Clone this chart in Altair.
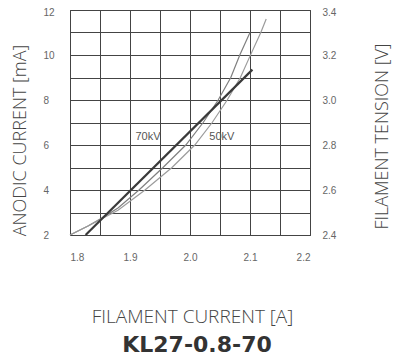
import altair as alt
import pandas as pd

# Anodic current curves (filament current [A] -> anodic current [mA])
i70 = [1.800, 1.830, 1.853, 1.880, 1.915, 1.955, 1.993, 2.022, 2.047, 2.068, 2.083, 2.100]
a70 = [2.0, 2.4, 2.75, 3.2, 4.0, 5.0, 6.0, 7.0, 8.0, 9.0, 10.0, 11.0]
i50 = [1.800, 1.830, 1.853, 1.880, 1.925, 1.970, 2.008, 2.037, 2.062, 2.084, 2.100, 2.118, 2.127]
a50 = [2.0, 2.4, 2.72, 3.1, 4.0, 5.0, 6.0, 7.0, 8.0, 9.0, 9.95, 11.0, 11.6]
# Filament tension line (filament current [A] -> tension [V])
it = [1.826, 2.104]
vt = [2.40, 3.135]
# Curve labels
lab_text = ["70kV", "50kV"]
lab_x = [1.930, 2.053]
lab_y = [6.36, 6.36]
# Ticks
x_ticks = [1.8, 1.85, 1.9, 1.95, 2.0, 2.05, 2.1, 2.15, 2.2]
y_ticks = [2, 3, 4, 5, 6, 7, 8, 9, 10, 11, 12]
r_ticks = [2.4, 2.6, 2.8, 3.0, 3.2, 3.4]

curves = pd.DataFrame({
    "i": i70 + i50,
    "a": a70 + a50,
    "s": ["70kV"] * len(i70) + ["50kV"] * len(i50),
})
tension = pd.DataFrame({"i": it, "v": vt})
labels = pd.DataFrame({"t": lab_text, "x": lab_x, "y": lab_y})

GRID = "#444"
LBL = "#666"
TFONT = "Open Sans"
VSIZE = 18

x_axis = alt.Axis(
    values=x_ticks,
    labelExpr="round(datum.value*100) % 10 == 0 ? format(datum.value, '.1f') : ''",
    grid=True, gridColor=GRID, gridWidth=1, ticks=False, tickSize=0, domain=False,
    labelPadding=17, labelFont="Liberation Sans", labelFontSize=10, labelColor=LBL,
    title="FILAMENT CURRENT [A]", titleFont=TFONT, titleFontSize=19, titleFontWeight=300,
    titleColor="#444", titleX=122, titleY=81, titleAlign="center", titleBaseline="middle",
)
x_scale = alt.Scale(domain=[1.8, 2.2], nice=False, zero=False)

y_axis = alt.Axis(
    values=y_ticks,
    labelExpr="datum.value % 2 == 0 ? datum.label : ''",
    labelOffset={"condition": {"test": "datum.value == 12", "value": 2.5}, "value": 0},
    grid=True, gridColor=GRID, gridWidth=1, ticks=False, tickSize=0, domain=False,
    labelAlign="left", labelPadding=27, labelFont="Liberation Sans", labelFontSize=10,
    labelColor=LBL,
    title="ANODIC CURRENT [mA]", titleFont=TFONT, titleFontSize=VSIZE, titleFontWeight=300,
    titleColor="#444", titleX=-49.5, titleY=130, titleAngle=270, titleAlign="center",
    titleBaseline="middle",
)
y_scale = alt.Scale(domain=[2, 12], nice=False, zero=False)

r_axis = alt.Axis(
    orient="right", values=r_ticks, format=".1f",
    labelOffset={"condition": {"test": "datum.value > 3.35", "value": 2.5}, "value": 0},
    grid=False, ticks=False, tickSize=0, domain=False,
    labelAlign="left", labelPadding=12, labelFont="Liberation Sans", labelFontSize=10,
    labelColor=LBL,
    title="FILAMENT TENSION [V]", titleFont=TFONT, titleFontSize=VSIZE, titleFontWeight=300,
    titleColor="#444", titleX=72.5, titleY=126, titleAngle=270, titleAlign="center",
    titleBaseline="middle",
)
r_scale = alt.Scale(domain=[2.4, 3.4], nice=False, zero=False)

curve_layer = alt.Chart(curves).mark_line(strokeWidth=1.2).encode(
    x=alt.X("i:Q", scale=x_scale, axis=x_axis),
    y=alt.Y("a:Q", scale=y_scale, axis=y_axis),
    color=alt.Color("s:N", scale=alt.Scale(domain=["70kV", "50kV"],
                                           range=["#808080", "#9c9c9c"]), legend=None),
)
text_layer = alt.Chart(labels).mark_text(
    font="Liberation Sans", fontSize=11, color="#555", align="center", baseline="middle"
).encode(
    x=alt.X("x:Q", scale=x_scale, axis=x_axis),
    y=alt.Y("y:Q", scale=y_scale, axis=y_axis),
    text="t:N",
)
left = alt.layer(curve_layer, text_layer)

right = alt.Chart(tension).mark_line(strokeWidth=2.2, color="#3a3a3a").encode(
    x=alt.X("i:Q", scale=x_scale, axis=x_axis),
    y=alt.Y("v:Q", scale=r_scale, axis=r_axis),
)

chart = alt.layer(left, right).resolve_scale(y="independent").properties(
    width=240, height=225,
    title=alt.TitleParams("KL27-0.8-70", orient="bottom", anchor="middle", font="DejaVu Sans",
                          fontSize=22, fontWeight="bold", color="#333", offset=9, dx=7),
    padding={"left": 62, "top": 2, "right": 83, "bottom": 126},
    autosize=alt.AutoSizeParams(type="none"),
).configure_view(stroke="#333", strokeWidth=1)

chart.save("out.html", embed_options={"renderer": "svg", "actions": False})
